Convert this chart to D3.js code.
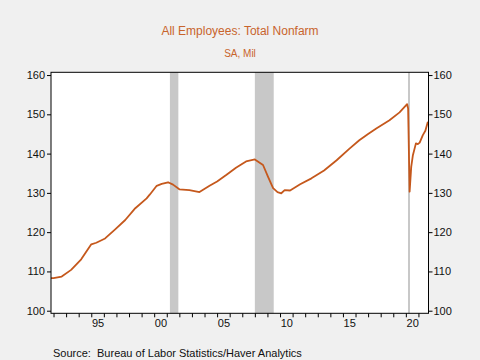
<!DOCTYPE html>
<html>
<head>
  <title>All Employees: Total Nonfarm</title>
  <script src="https://d3js.org/d3.v7.min.js"></script>
  <style>
    body { margin: 0; background: #f0f0f0; }
    svg { display: block; font-family: "Liberation Sans", Arial, sans-serif; }
  </style>
</head>
<body>

  <svg></svg>

  <script>

    // Data (decimal years, millions)
    var years = [1991.8, 1992.0, 1992.65, 1993.4, 1994.2, 1995.0, 1995.4, 1996.1, 1996.9, 1997.7,
                 1998.5, 1999.4, 1999.66, 2000.2, 2000.6, 2001.1, 2001.5, 2002.0, 2002.8, 2003.6,
                 2004.4, 2005.0, 2005.75, 2006.5, 2007.3, 2008.0, 2008.65, 2009.05, 2009.45, 2009.8,
                 2010.1, 2010.37, 2010.8, 2011.6, 2012.5, 2013.5, 2014.5, 2015.5, 2016.3, 2017.0,
                 2017.65, 2018.7, 2019.5, 2020.1, 2020.18, 2020.3, 2020.43, 2020.56, 2020.8, 2020.95,
                 2021.1, 2021.35, 2021.55, 2021.75];
    var values = [108.3, 108.3, 108.7, 110.4, 113.1, 116.9, 117.3, 118.4, 120.7, 123.1,
                  126.1, 128.6, 129.6, 131.8, 132.3, 132.7, 132.1, 130.9, 130.7, 130.2,
                  131.8, 132.9, 134.6, 136.4, 138.0, 138.5, 137.1, 134.1, 131.2, 130.2,
                  129.9, 130.7, 130.6, 132.2, 133.7, 135.7, 138.3, 141.2, 143.4, 145.0,
                  146.4, 148.5, 150.5, 152.6, 151.5, 130.3, 136.7, 139.6, 142.6, 142.4,
                  142.8, 144.7, 145.8, 148.1];

    // Recession shading
    var recStart = [2001.25, 2008.0, 2020.17];
    var recEnd   = [2001.92, 2009.5, 2020.33];

    // Axis ticks
    var tickYears = d3.range(1992, 2022);
    var labelYears = [1995, 2000, 2005, 2010, 2015, 2020];
    var yTicks = [100, 110, 120, 130, 140, 150, 160];

    var data = years.map(function(d, i) { return {year: d, value: values[i]}; });

    var width = 480, height = 360;
    var plot = {left: 51, right: 428.5, top: 72.3, bottom: 313.3};
    var orange = "#c5581c";

    var svg = d3.select("svg")
        .attr("width", width)
        .attr("height", height);

    svg.append("rect")
        .attr("width", width)
        .attr("height", height)
        .attr("fill", "#f0f0f0");

    var x = d3.scaleLinear().domain([1991.8, 2021.8]).range([plot.left, plot.right]);
    var y = d3.scaleLinear().domain([99.34, 160.7]).range([plot.bottom, plot.top]);

    // Plot background
    svg.append("rect")
        .attr("x", plot.left)
        .attr("y", plot.top)
        .attr("width", plot.right - plot.left)
        .attr("height", plot.bottom - plot.top)
        .attr("fill", "#fff");

    // Recession bars
    svg.selectAll(".rec")
        .data(recStart)
      .enter().append("rect")
        .attr("class", "rec")
        .attr("x", function(d) { return x(d); })
        .attr("y", plot.top)
        .attr("width", function(d, i) { return x(recEnd[i]) - x(d); })
        .attr("height", plot.bottom - plot.top)
        .attr("fill", "#c8c8c8");

    // Line
    var line = d3.line()
        .x(function(d) { return x(d.year); })
        .y(function(d) { return y(d.value); });

    svg.append("path")
        .datum(data)
        .attr("fill", "none")
        .attr("stroke", orange)
        .attr("stroke-width", 1.8)
        .attr("stroke-linejoin", "round")
        .attr("d", line);

    // Frame
    svg.append("rect")
        .attr("x", plot.left)
        .attr("y", plot.top)
        .attr("width", plot.right - plot.left)
        .attr("height", plot.bottom - plot.top)
        .attr("fill", "none")
        .attr("stroke", "#000")
        .attr("stroke-width", 1);

    // X axis: yearly ticks
    svg.append("g")
        .attr("transform", "translate(0," + plot.bottom + ")")
        .call(d3.axisBottom(x).tickValues(tickYears).tickSize(4).tickSizeOuter(0).tickFormat(""))
        .call(function(g) { g.select(".domain").remove(); });

    // X axis: labels centred on the year
    svg.append("g")
        .attr("transform", "translate(0," + plot.bottom + ")")
        .call(d3.axisBottom(x)
            .tickValues(labelYears.map(function(d) { return d + 0.5; }))
            .tickSize(0)
            .tickPadding(6)
            .tickFormat(function(d) { return String(Math.floor(d) % 100).padStart(2, "0"); }))
        .call(function(g) {
          g.select(".domain").remove();
          g.selectAll("text").style("font-size", "11px").attr("fill", "#111");
        });

    // Y axes
    svg.append("g")
        .attr("transform", "translate(" + plot.left + ",0)")
        .call(d3.axisLeft(y).tickValues(yTicks).tickSize(4).tickSizeOuter(0).tickPadding(2))
        .call(function(g) {
          g.select(".domain").remove();
          g.selectAll("text").style("font-size", "11px").attr("fill", "#111");
        });

    svg.append("g")
        .attr("transform", "translate(" + plot.right + ",0)")
        .call(d3.axisRight(y).tickValues(yTicks).tickSize(4).tickSizeOuter(0).tickPadding(1))
        .call(function(g) {
          g.select(".domain").remove();
          g.selectAll("text").style("font-size", "11px").attr("fill", "#111");
        });

    // Titles
    svg.append("text")
        .attr("x", 240)
        .attr("y", 34.5)
        .attr("text-anchor", "middle")
        .attr("fill", "#c8642c")
        .style("font-size", "12px")
        .text("All Employees: Total Nonfarm");

    svg.append("text")
        .attr("x", 240)
        .attr("y", 57)
        .attr("text-anchor", "middle")
        .attr("fill", "#c8642c")
        .style("font-size", "10px")
        .text("SA, Mil");

    // Source note
    svg.append("text")
        .attr("x", 53)
        .attr("y", 356.5)
        .attr("fill", "#111")
        .style("font-size", "11px")
        .attr("xml:space", "preserve")
        .text("Source:  Bureau of Labor Statistics/Haver Analytics");

  </script>

</body>
</html>
